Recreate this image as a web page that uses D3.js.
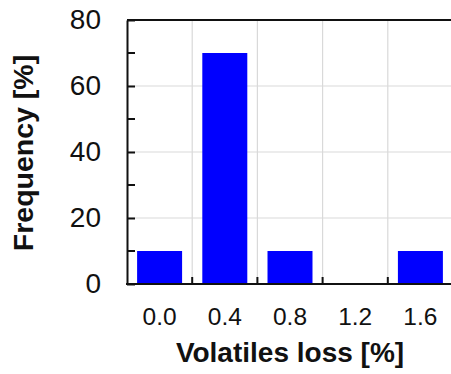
<!DOCTYPE html>
<html>
<head>
<meta charset="utf-8">
<script src="https://cdn.jsdelivr.net/npm/d3@7"></script>
<style>
  body { margin: 0; background: #fff; }
  text { font-family: "Liberation Sans", Arial, sans-serif; fill: #111; }
</style>
</head>
<body>
<div id="chart"></div>
<script>
// data
var categories = ["0.0", "0.4", "0.8", "1.2", "1.6"];
var frequency = [10, 70, 10, 0, 10];
var yTicks = [0, 20, 40, 60, 80];
var yMinorTicks = [10, 30, 50, 70];

var W = 451, H = 374;
var margin = { top: 20, right: -2, bottom: 90, left: 127 };
var width = W - margin.left - margin.right;
var height = H - margin.top - margin.bottom;

var svg = d3.select("#chart")
  .append("svg")
  .attr("width", W)
  .attr("height", H);

var g = svg.append("g")
  .attr("transform", "translate(" + margin.left + "," + margin.top + ")");

// slots for ticks / grid, inner band for bars
var slot = d3.scaleBand().domain(categories).range([0, width]).padding(0);
var x = d3.scaleBand().domain(categories).range([0, width])
  .paddingInner(0.31).paddingOuter(0.155);
var y = d3.scaleLinear().domain([0, 80]).range([height, 0]);

// grid
var bounds = categories.slice(1).map(function(c) { return slot(c); });
g.selectAll(".vgrid")
  .data(bounds)
  .enter()
  .append("line")
  .attr("class", "vgrid")
  .attr("x1", function(d) { return d; })
  .attr("x2", function(d) { return d; })
  .attr("y1", 0)
  .attr("y2", height)
  .attr("stroke", "#d9d9d9")
  .attr("stroke-width", 1.2);

g.selectAll(".hgrid")
  .data(yTicks.filter(function(d) { return d > 0 && d < 80; }))
  .enter()
  .append("line")
  .attr("class", "hgrid")
  .attr("x1", 0)
  .attr("x2", width)
  .attr("y1", function(d) { return y(d); })
  .attr("y2", function(d) { return y(d); })
  .attr("stroke", "#d9d9d9")
  .attr("stroke-width", 1.2);

// bars
g.selectAll(".bar")
  .data(frequency)
  .enter()
  .append("rect")
  .attr("class", "bar")
  .attr("x", function(d, i) { return x(categories[i]); })
  .attr("width", x.bandwidth())
  .attr("y", function(d) { return y(d); })
  .attr("height", function(d) { return height - y(d); })
  .attr("fill", "#0000ff");

// y axis, ticks inward
var yAxis = g.append("g")
  .call(d3.axisLeft(y).tickValues(yTicks).tickSizeInner(-8).tickSizeOuter(0).tickPadding(26));
yAxis.select(".domain").attr("stroke", "#111").attr("stroke-width", 2);
yAxis.selectAll(".tick line").attr("stroke", "#111").attr("stroke-width", 2);
yAxis.selectAll("text").style("font-size", "28px").attr("fill", "#111");

g.append("g")
  .selectAll("line")
  .data(yMinorTicks)
  .enter()
  .append("line")
  .attr("x1", 0)
  .attr("x2", 8)
  .attr("y1", function(d) { return y(d); })
  .attr("y2", function(d) { return y(d); })
  .attr("stroke", "#111")
  .attr("stroke-width", 2);

// top border
g.append("line")
  .attr("x1", 0).attr("x2", width)
  .attr("y1", 0).attr("y2", 0)
  .attr("stroke", "#111").attr("stroke-width", 2);

// bottom axis line with inward ticks at slot boundaries
g.append("line")
  .attr("x1", -1).attr("x2", width)
  .attr("y1", height).attr("y2", height)
  .attr("stroke", "#111").attr("stroke-width", 2);

g.selectAll(".xtick")
  .data(bounds)
  .enter()
  .append("line")
  .attr("class", "xtick")
  .attr("x1", function(d) { return d; })
  .attr("x2", function(d) { return d; })
  .attr("y1", height)
  .attr("y2", height - 7)
  .attr("stroke", "#111")
  .attr("stroke-width", 2);

g.selectAll(".xlabel")
  .data(categories)
  .enter()
  .append("text")
  .attr("class", "xlabel")
  .attr("x", function(d) { return slot(d) + slot.bandwidth() / 2; })
  .attr("y", height + 41)
  .attr("text-anchor", "middle")
  .style("font-size", "24.5px")
  .text(function(d) { return d; });

// axis titles
svg.append("text")
  .attr("x", margin.left + (W - 2 - margin.left) / 2 + 2)
  .attr("y", 362)
  .attr("text-anchor", "middle")
  .style("font-size", "28px")
  .style("font-weight", "bold")
  .text("Volatiles loss [%]");

svg.append("text")
  .attr("transform", "translate(33," + (margin.top + height / 2 + 1) + ") rotate(-90)")
  .attr("text-anchor", "middle")
  .style("font-size", "28.5px")
  .style("font-weight", "bold")
  .text("Frequency [%]");
</script>
</body>
</html>
